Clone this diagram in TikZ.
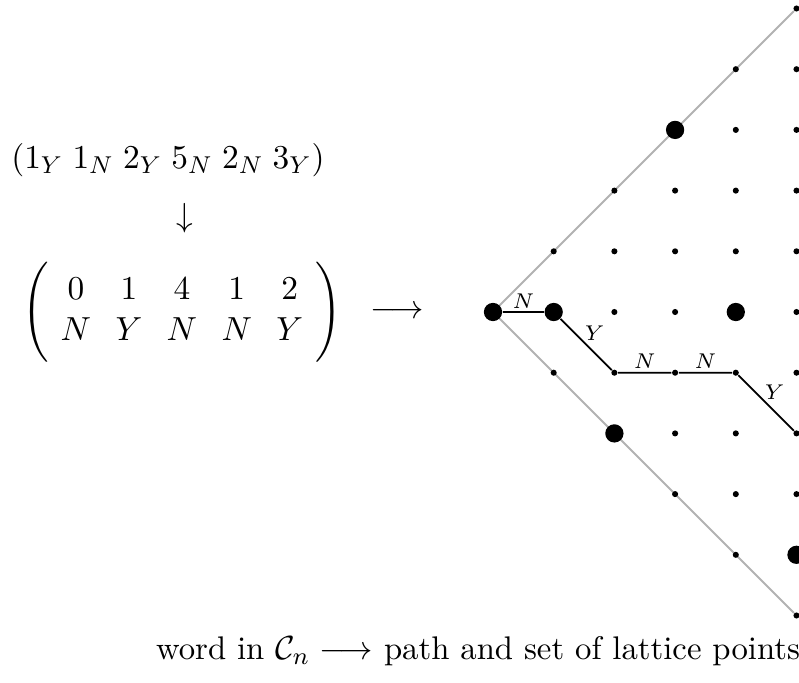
\documentclass[tikz,border=0pt]{standalone}
\usepackage{amsmath}
\pgfdeclarelayer{background}
\pgfsetlayers{background,main}
\begin{document}
\begin{tikzpicture}[x=0.70cm, y=0.70cm,
    txt/.style={font=\fontsize{10.74pt}{13.4pt}\selectfont},
    dot/.style={circle, fill=black, inner sep=0pt, minimum size=2pt},
    bigdot/.style={circle, fill=black, inner sep=0pt, minimum size=6pt},
    walk/.style={semithick},
    wall/.style={gray!60, semithick},
    lab/.style={font=\fontsize{7pt}{8.5pt}\selectfont, inner sep=1pt}]
    % frame of the picture (1 unit = one lattice step)
    \useasboundingbox (-8.122,-6.112) rectangle (5.041,5.140);

    % ===== left side: word and its matrix =====
    \node[txt] (word) at (-5.354, 2.504)
      {$(1_Y\;1_N\;2_Y\;5_N\;2_N\;3_Y)$};
    \node[txt] (down) at (-5.074, 1.549) {$\downarrow$};
    \node[txt] (mat)  at (-5.124, 0)
      {$\setlength{\arraycolsep}{4.0pt}\Bigg(\begin{array}{ccccc}
         0 & 1 & 4 & 1 & 2\\ N & Y & N & N & Y \end{array}\Bigg)$};
    \node[txt] (to)   at (-1.582, 0) {$\longrightarrow$};

    % ===== right side: lattice cone =====
    \foreach \i in {0,...,5} {
      \foreach \j in {-5,...,5} {
        \pgfmathparse{abs(\j)<=\i}
        \ifnum\pgfmathresult=1
          \node[dot] (p-\i-\j) at (\i, \j) {};
        \fi
      }
    }

    % the two walls of the cone
    \begin{pgfonlayer}{background}
      \draw[wall] (p-0-0) -- (p-5-5);
      \draw[wall] (p-0-0) -- (p-5--5);
    \end{pgfonlayer}

    % marked lattice points
    \foreach \i/\j in {0/0, 1/0, 3/3, 4/0, 2/-2, 5/-4}
      \node[bigdot] (q-\i-\j) at (\i, \j) {};

    % the path
    \draw[walk] (q-0-0) -- node[lab, above] {$N$} (q-1-0)
                -- node[lab, above, xshift=2.8pt] {$Y$} (p-2--1)
                -- node[lab, above] {$N$} (p-3--1)
                -- node[lab, above] {$N$} (p-4--1)
                -- node[lab, above, xshift=2.8pt] {$Y$} (p-5--2);

    % caption
    \node[txt] (cap) at (-0.247, -5.585)
      {word in $\mathcal{C}_n \longrightarrow$ path and set of lattice points};
\end{tikzpicture}
\end{document}
